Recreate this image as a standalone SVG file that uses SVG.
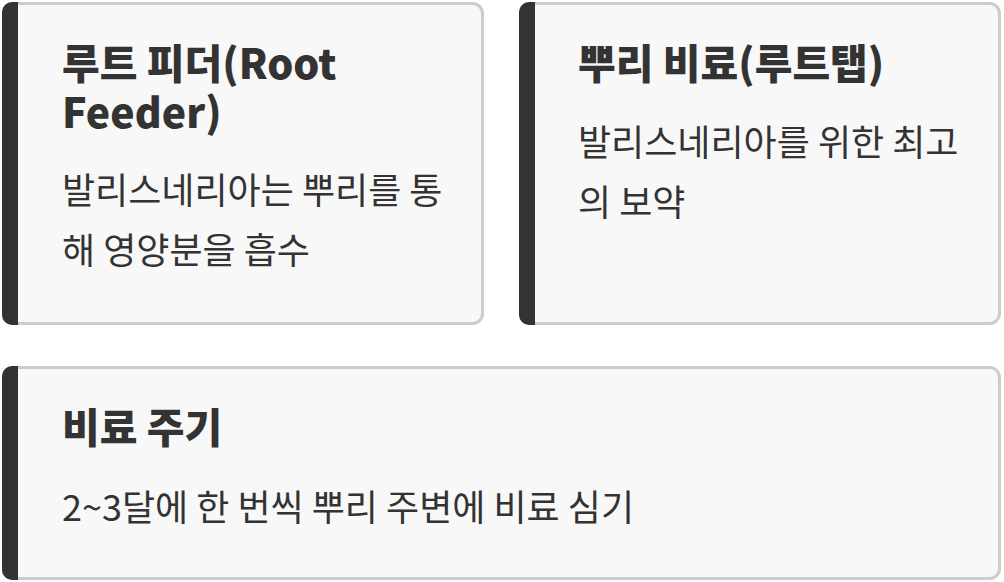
<svg xmlns="http://www.w3.org/2000/svg" width="1004" height="582" viewBox="0 0 1004 582">
<style>
.card{fill:#f8f8f8;stroke:#cccccc;stroke-width:3}
.bar{fill:#333333}
.t{font-family:"Noto Sans CJK KR","Noto Sans",sans-serif;font-weight:900;font-size:41px;fill:#333333}
.b{font-family:"Noto Sans CJK KR","Noto Sans",sans-serif;font-size:36px;fill:#333333}
</style>
<rect width="1004" height="582" fill="#ffffff"/>
<g id="node1">
<rect class="card" x="3.5" y="3.5" width="479" height="320" rx="10"/>
<path class="bar" d="M12 2 H18 V325 H12 A10 10 0 0 1 2 315 V12 A10 10 0 0 1 12 2 Z"/>
<text class="t" x="62" y="79">루트 피더(Root</text>
<text class="t" x="62" y="128">Feeder)</text>
<text class="b" x="62" y="204">발리스네리아는 뿌리를 통</text>
<text class="b" x="62" y="264">해 영양분을 흡수</text>
</g>
<g id="node2">
<rect class="card" x="520.5" y="3.5" width="479" height="320" rx="10"/>
<path class="bar" d="M529 2 H535 V325 H529 A10 10 0 0 1 519 315 V12 A10 10 0 0 1 529 2 Z"/>
<text class="t" x="578" y="79">뿌리 비료(루트탭)</text>
<text class="b" x="578" y="156">발리스네리아를 위한 최고</text>
<text class="b" x="578" y="216">의 보약</text>
</g>
<g id="node3">
<rect class="card" x="3.5" y="367.5" width="996" height="211" rx="10"/>
<path class="bar" d="M12 366 H18 V580 H12 A10 10 0 0 1 2 570 V376 A10 10 0 0 1 12 366 Z"/>
<text class="t" x="62" y="443">비료 주기</text>
<text class="b" x="62" y="521">2~3달에 한 번씩 뿌리 주변에 비료 심기</text>
</g>
<g id="connectors"/>
</svg>
